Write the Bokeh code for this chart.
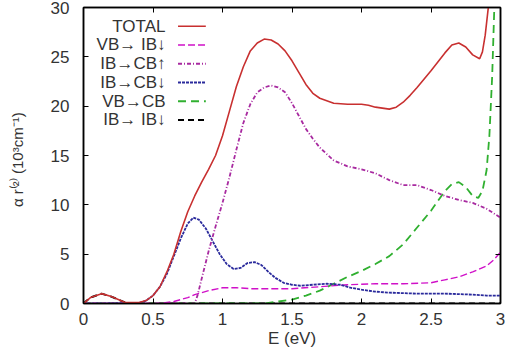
from bokeh.plotting import figure
from bokeh.models import LinearAxis, Range1d, FixedTicker, Label
from bokeh.embed import file_html
from bokeh.resources import INLINE

# ---- data ----
e_total = [0, 0.05, 0.13, 0.2, 0.3, 0.4, 0.45, 0.5, 0.55, 0.6, 0.65, 0.7, 0.75, 0.8, 0.85, 0.9,
           0.95, 1.0, 1.05, 1.1, 1.15, 1.2, 1.25, 1.3, 1.35, 1.4, 1.45, 1.5, 1.55, 1.6, 1.65,
           1.7, 1.8, 1.9, 2.0, 2.05, 2.1, 2.2, 2.25, 2.3, 2.35, 2.4, 2.5, 2.6, 2.65, 2.7, 2.75,
           2.8, 2.85, 2.87, 2.89, 2.91, 2.93]
total = [0, 0.6, 1.0, 0.7, 0.1, 0.1, 0.3, 0.8, 1.7, 3.2, 5.0, 7.3, 9.3, 10.9, 12.3, 13.6,
         15.0, 17.0, 19.5, 22.0, 24.0, 25.6, 26.4, 26.8, 26.7, 26.3, 25.6, 24.6, 23.4, 22.2, 21.3,
         20.8, 20.3, 20.2, 20.2, 20.1, 19.9, 19.7, 19.9, 20.4, 21.1, 21.9, 23.6, 25.4, 26.2, 26.4, 26.0,
         25.2, 24.8, 25.5, 27.2, 29.7, 32.0]

e_vbib = [0, 0.55, 0.6, 0.65, 0.7, 0.75, 0.8, 0.9, 1.0, 1.1, 1.2, 1.3, 1.5, 1.7, 1.9, 2.1, 2.3,
          2.5, 2.6, 2.7, 2.8, 2.9, 2.95, 3.0]
vbib_dn = [0, 0, 0.1, 0.2, 0.4, 0.6, 0.9, 1.3, 1.6, 1.6, 1.5, 1.5, 1.5, 1.7, 1.9, 2.0, 2.0,
           2.1, 2.4, 2.7, 3.2, 3.8, 4.4, 5.2]

e_ibcb_up = [0, 0.8, 0.82, 0.85, 0.9, 0.95, 1.0, 1.05, 1.1, 1.15, 1.2, 1.25, 1.3, 1.35, 1.4, 1.45,
             1.5, 1.55, 1.6, 1.65, 1.7, 1.8, 1.9, 2.0, 2.1, 2.2, 2.3, 2.4, 2.5, 2.6, 2.7, 2.8,
             2.9, 3.0]
ibcb_up = [0, 0, 0.8, 2.5, 5.3, 7.8, 10.2, 12.8, 15.6, 18.3, 20.2, 21.4, 21.9, 22.1, 21.9, 21.4,
           20.3, 19.0, 17.7, 16.7, 15.8, 14.5, 13.9, 13.6, 13.2, 12.5, 12.0, 12.0, 11.5, 10.9, 10.5, 10.2,
           9.6, 8.7]

e_ibcb_dn = [0, 0.4, 0.45, 0.5, 0.55, 0.6, 0.65, 0.7, 0.75, 0.79, 0.83, 0.88, 0.93, 0.98, 1.03,
             1.08, 1.13, 1.18, 1.23, 1.28, 1.33, 1.38, 1.44, 1.5, 1.56, 1.65, 1.75, 1.85, 1.92,
             2.0, 2.1, 2.2, 2.4, 2.6, 2.8, 2.9, 3.0]
ibcb_dn = [0, 0.05, 0.3, 0.8, 1.7, 3.0, 4.8, 6.6, 8.1, 8.7, 8.5, 7.6, 6.3, 5.0, 4.0,
           3.5, 3.6, 4.1, 4.2, 3.9, 3.2, 2.6, 2.1, 1.9, 1.8, 1.9, 2.0, 1.9, 1.6,
           1.4, 1.2, 1.1, 1.0, 1.0, 0.9, 0.8, 0.8]

e_vbcb = [0, 1.3, 1.4, 1.5, 1.6, 1.7, 1.8, 1.9, 2.0, 2.1, 2.2, 2.3, 2.4, 2.5, 2.6, 2.65, 2.7,
          2.75, 2.8, 2.84, 2.87, 2.9, 2.92, 2.94, 2.96]
vbcb = [0, 0, 0.2, 0.4, 0.8, 1.3, 2.0, 2.7, 3.3, 4.0, 4.8, 6.0, 7.7, 9.4, 11.4, 12.1, 12.3,
        11.8, 10.9, 10.7, 11.4, 13.5, 17.0, 23.0, 32.0]

e_ibib = [0, 0.05, 0.13, 0.2, 0.3, 0.35, 3.0]
ibib_dn = [0, 0.6, 1.0, 0.7, 0.1, 0, 0]

x_ticks = [0, 0.5, 1, 1.5, 2, 2.5, 3]
x_tick_labels = ["0", "0.5", "1", "1.5", "2", "2.5", "3"]
y_ticks = [0, 5, 10, 15, 20, 25, 30]

legend_labels = ["TOTAL", "VB\u2192 IB\u2193", "IB\u2192CB\u2191", "IB\u2192CB\u2193", "VB\u2192CB", "IB\u2192 IB\u2193"]

FONT = "Liberation Sans"

p = figure(width=505, height=353, output_backend="svg", toolbar_location=None,
           x_range=Range1d(0, 3), y_range=Range1d(0, 30),
           min_border_left=83, min_border_right=5, min_border_top=7, min_border_bottom=50,
           x_axis_label="E (eV)",
           y_axis_label="\u03b1  r\u207d\u00b2\u207e  (10\u00b3cm\u207b\u00b9)")
p.grid.visible = False
p.outline_line_color = "black"
p.outline_line_width = 1.5
p.background_fill_color = "white"
p.border_fill_color = "white"

for ax in p.xaxis + p.yaxis:
    ax.axis_line_color = "black"
    ax.axis_line_width = 1.5
    ax.major_tick_in = 5
    ax.major_tick_out = 0
    ax.minor_tick_line_color = None
    ax.major_label_text_font = FONT
    ax.major_label_text_font_size = "17px"
    ax.major_label_text_color = "#333333"
    ax.axis_label_text_font = FONT
    ax.axis_label_text_font_style = "normal"
    ax.axis_label_text_color = "#333333"

p.xaxis.ticker = FixedTicker(ticks=x_ticks)
p.xaxis.major_label_overrides = {t: l for t, l in zip(x_ticks, x_tick_labels)}
p.yaxis.ticker = FixedTicker(ticks=y_ticks)
p.xaxis.major_label_standoff = 9
p.yaxis.major_label_standoff = 14
p.xaxis.axis_label_text_font_size = "17px"
p.xaxis.axis_label_standoff = 1
p.yaxis.axis_label_text_font_size = "15px"
p.yaxis.axis_label_standoff = 22

for loc, tk in (("right", y_ticks), ("above", x_ticks)):
    a = LinearAxis(ticker=FixedTicker(ticks=tk),
                   major_label_overrides={t: "" for t in tk},
                   major_tick_in=5, major_tick_out=0, minor_tick_line_color=None,
                   major_label_standoff=0, axis_line_color="black", axis_line_width=1.5)
    p.add_layout(a, loc)

styles = [
    dict(color="#c83030", line_width=1.6, line_dash="solid"),
    dict(color="#d010c8", line_width=1.4, line_dash="7 3"),
    dict(color="#a82aa0", line_width=1.8, line_dash="4 2 1 2"),
    dict(color="#2a2a9c", line_width=1.8, line_dash="3 1"),
    dict(color="#30b030", line_width=1.8, line_dash="8 5"),
    dict(color="#000000", line_width=2.0, line_dash="6 4"),
]
series = [(e_ibib, ibib_dn), (e_vbcb, vbcb), (e_vbib, vbib_dn), (e_ibcb_dn, ibcb_dn),
          (e_ibcb_up, ibcb_up), (e_total, total)]
order = [5, 4, 1, 3, 2, 0]
for (xs, ys), k in zip(series, order):
    p.line(xs, ys, **styles[k])

# custom legend: text on the left, sample on the right (gnuplot style)
leg_y = [28.1, 26.2, 24.3, 22.4, 20.5, 18.6]
for lab, yy, st in zip(legend_labels, leg_y, styles):
    p.add_layout(Label(x=0.59, y=yy, text=lab, text_align="right", text_baseline="middle",
                       text_font=FONT, text_font_size="17px", text_color="#333333"))
    p.segment(x0=[0.68], y0=[yy], x1=[0.88], y1=[yy], **st)

open("out.html", "w").write(file_html(p, INLINE))
